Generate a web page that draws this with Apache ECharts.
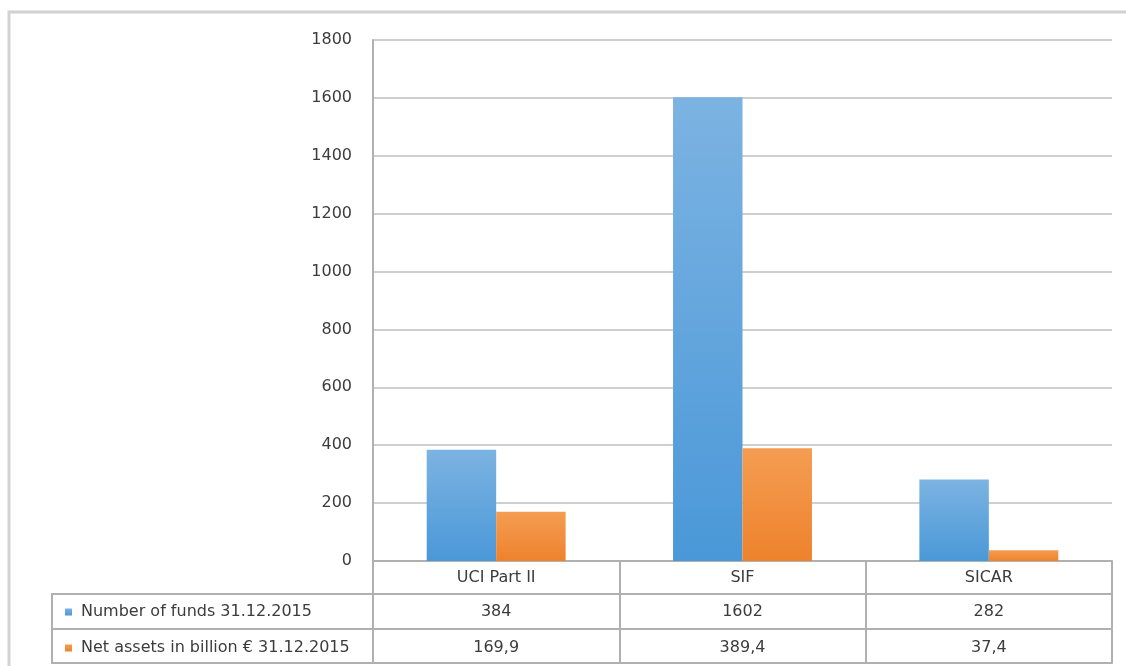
<!DOCTYPE html>
<html>
<head>
<meta charset="utf-8">
<script src="https://cdn.jsdelivr.net/npm/echarts@6/dist/echarts.min.js"></script>
<style>
html,body{margin:0;padding:0;background:#fff;}
#chart{width:1126px;height:666px;}
</style>
</head>
<body>
<div id="chart"></div>
<script>
const categories = ['UCI Part II', 'SIF', 'SICAR'];
const seriesNames = ['Number of funds 31.12.2015', 'Net assets in billion \u20ac 31.12.2015'];
const funds = [384, 1602, 282];
const netAssets = [169.9, 389.4, 37.4];
const fundsLabels = ['384', '1602', '282'];
const assetsLabels = ['169,9', '389,4', '37,4'];
const yTicks = [0, 200, 400, 600, 800, 1000, 1200, 1400, 1600, 1800];

const FONT = 'DejaVu Sans';
const FS = 16;
const TXT = '#3c3c3c';
const TABLE = '#b0b0b0';
const GRID = '#cfcfcf';

const chart = echarts.init(document.getElementById('chart'), null, {renderer: 'canvas'});

function tableAxis(offset, labels, showTicks, margin) {
  return {
    type: 'category',
    gridIndex: 0,
    position: 'bottom',
    offset: offset,
    data: categories,
    axisLine: {show: true, lineStyle: {color: TABLE, width: 2}},
    axisTick: {show: showTicks, interval: 0, length: showTicks ? 34 : 0, lineStyle: {color: TABLE, width: 2}},
    axisLabel: {
      show: !!labels,
      interval: 0,
      margin: margin || 9,
      color: TXT,
      fontFamily: FONT,
      fontSize: FS,
      formatter: function (v, i) { return labels ? labels[i] : ''; }
    },
    splitLine: {show: false}
  };
}

const option = {
  animation: false,
  backgroundColor: '#fff',
  grid: {left: 373, right: 14, top: 40, bottom: 105, containLabel: false},
  legend: [
    {
      data: [seriesNames[0]], left: 60, top: 599, orient: 'vertical',
      icon: 'rect', itemWidth: 7, itemHeight: 7, selectedMode: false,
      textStyle: {color: TXT, fontFamily: FONT, fontSize: FS, padding: [0, 0, 0, 4]}
    },
    {
      data: [seriesNames[1]], left: 60, top: 635, orient: 'vertical',
      icon: 'rect', itemWidth: 7, itemHeight: 7, selectedMode: false,
      textStyle: {color: TXT, fontFamily: FONT, fontSize: FS, padding: [0, 0, 0, 4]}
    }
  ],
  xAxis: [
    tableAxis(0, categories, true, 9),
    tableAxis(33, fundsLabels, true, 10),
    tableAxis(68, assetsLabels, true, 11),
    tableAxis(102, null, false)
  ],
  yAxis: {
    type: 'value',
    min: yTicks[0],
    max: yTicks[yTicks.length - 1],
    interval: 200,
    axisLine: {show: true, lineStyle: {color: TABLE, width: 2}},
    axisTick: {show: false},
    axisLabel: {color: TXT, fontFamily: FONT, fontSize: FS, margin: 21, formatter: function (v) { return String(v); }},
    splitLine: {show: true, lineStyle: {color: GRID, width: 2}}
  },
  graphic: [
    {type: 'rect', shape: {x: 9, y: 12, width: 1130, height: 670}, style: {fill: 'none', stroke: '#d2d2d2', lineWidth: 3}, silent: true},
    {type: 'line', shape: {x1: 52, y1: 594, x2: 373, y2: 594}, style: {stroke: TABLE, lineWidth: 2}, silent: true},
    {type: 'line', shape: {x1: 52, y1: 629, x2: 373, y2: 629}, style: {stroke: TABLE, lineWidth: 2}, silent: true},
    {type: 'line', shape: {x1: 52, y1: 663, x2: 373, y2: 663}, style: {stroke: TABLE, lineWidth: 2}, silent: true},
    {type: 'line', shape: {x1: 52, y1: 593, x2: 52, y2: 664}, style: {stroke: TABLE, lineWidth: 2}, silent: true}
  ],
  series: [
    {
      name: seriesNames[0],
      type: 'bar',
      xAxisIndex: 0,
      data: funds,
      barGap: '0%',
      barCategoryGap: '43.6%',
      itemStyle: {
        color: new echarts.graphic.LinearGradient(0, 0, 0, 1, [
          {offset: 0, color: '#7cb3e2'},
          {offset: 1, color: '#4a98d8'}
        ])
      }
    },
    {
      name: seriesNames[1],
      type: 'bar',
      xAxisIndex: 0,
      data: netAssets,
      itemStyle: {
        color: new echarts.graphic.LinearGradient(0, 0, 0, 1, [
          {offset: 0, color: '#f49d52'},
          {offset: 1, color: '#ee822d'}
        ])
      }
    }
  ]
};
chart.setOption(option);
</script>
</body>
</html>
